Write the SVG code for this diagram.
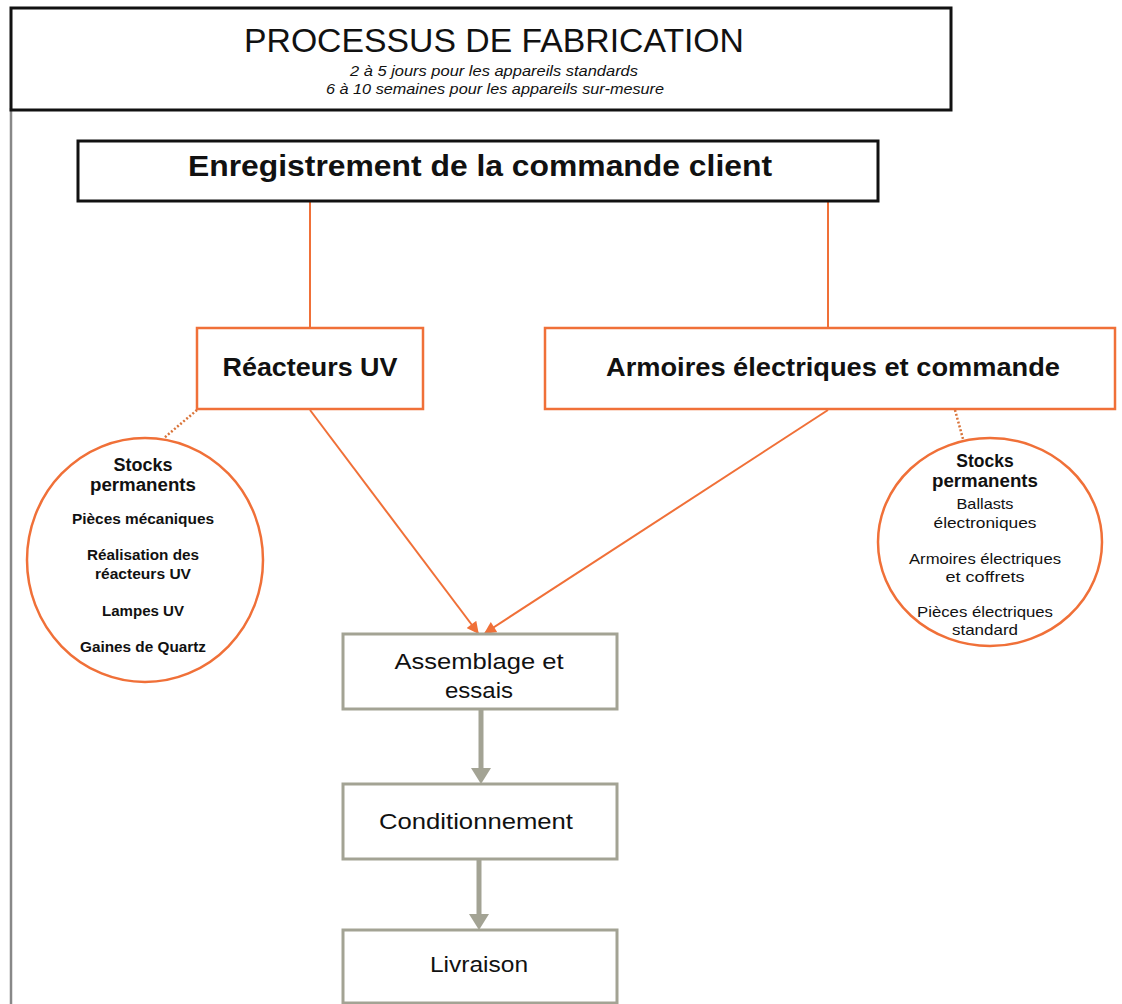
<svg xmlns="http://www.w3.org/2000/svg" width="1122" height="1004" viewBox="0 0 1122 1004">
<style>
.t{font-family:"Liberation Sans",Arial,sans-serif;fill:#111;text-anchor:middle}
.b{font-weight:bold}
.or{fill:#fff;stroke:#f07038;stroke-width:2.5}
.gr{fill:#fff;stroke:#a3a394;stroke-width:3}
.bk{fill:#fff;stroke:#111;stroke-width:3}
.ol{stroke:#f07038;stroke-width:2;fill:none}
.dot{stroke:#d9743a;stroke-width:2.5;stroke-dasharray:2 2;fill:none}
.ga{stroke:#a3a394;stroke-width:5;fill:none}
</style>
<defs>
<marker id="ao" viewBox="0 0 10 10" refX="9" refY="5" markerWidth="13" markerHeight="12" orient="auto" markerUnits="userSpaceOnUse">
<path d="M0,0 L10,5 L0,10 z" fill="#f07038"/>
</marker>
</defs>
<rect width="1122" height="1004" fill="#fff"/>
<line x1="11" y1="108" x2="11" y2="1004" stroke="#888" stroke-width="2.5"/>
<g id="title">
<rect x="11" y="8" width="940" height="102" class="bk"/>
<text class="t" x="494" y="52" font-size="33" textLength="500" lengthAdjust="spacingAndGlyphs">PROCESSUS DE FABRICATION</text>
<text class="t" x="494" y="76" font-size="14" font-style="italic" textLength="288" lengthAdjust="spacingAndGlyphs">2 à 5 jours pour les appareils standards</text>
<text class="t" x="495" y="94" font-size="14" font-style="italic" textLength="338" lengthAdjust="spacingAndGlyphs">6 à 10 semaines pour les appareils sur-mesure</text>
</g>
<g id="connectors">
<line class="ol" x1="310" y1="201" x2="310" y2="328"/>
<line class="ol" x1="828" y1="201" x2="828" y2="328"/>
<line class="ol" x1="310" y1="410" x2="478" y2="633" marker-end="url(#ao)" stroke-width="1.8"/>
<line class="ol" x1="828" y1="410" x2="485" y2="633" marker-end="url(#ao)" stroke-width="1.8"/>
<line class="dot" x1="197" y1="410" x2="164" y2="438"/>
<line class="dot" x1="955" y1="410" x2="963" y2="439"/>
<line class="ga" x1="481" y1="710" x2="481" y2="770"/>
<path d="M471,768 L491,768 L481,784 z" fill="#a3a394"/>
<line class="ga" x1="479" y1="860" x2="479" y2="916"/>
<path d="M469,914 L489,914 L479,930 z" fill="#a3a394"/>
</g>
<g id="enregistrement">
<rect x="78" y="141" width="800" height="60" class="bk"/>
<text class="t b" x="480" y="176" font-size="30" textLength="584" lengthAdjust="spacingAndGlyphs">Enregistrement de la commande client</text>
</g>
<g id="reacteurs">
<rect x="197" y="328" width="226" height="81" class="or"/>
<text class="t b" x="310" y="376" font-size="26" textLength="175" lengthAdjust="spacingAndGlyphs">Réacteurs UV</text>
</g>
<g id="armoires">
<rect x="545" y="328" width="570" height="81" class="or"/>
<text class="t b" x="833" y="376" font-size="26" textLength="454" lengthAdjust="spacingAndGlyphs">Armoires électriques et commande</text>
</g>
<g id="stocks-gauche">
<ellipse cx="145" cy="560" rx="118" ry="122" class="or"/>
<text class="t b" x="143" y="471" font-size="18">Stocks</text>
<text class="t b" x="143" y="491" font-size="18" textLength="106" lengthAdjust="spacingAndGlyphs">permanents</text>
<text class="t b" x="143" y="524" font-size="14" textLength="142" lengthAdjust="spacingAndGlyphs">Pièces mécaniques</text>
<text class="t b" x="143" y="560" font-size="14" textLength="112" lengthAdjust="spacingAndGlyphs">Réalisation des</text>
<text class="t b" x="143" y="579" font-size="14" textLength="96" lengthAdjust="spacingAndGlyphs">réacteurs UV</text>
<text class="t b" x="143" y="616" font-size="14" textLength="82" lengthAdjust="spacingAndGlyphs">Lampes UV</text>
<text class="t b" x="143" y="652" font-size="14" textLength="126" lengthAdjust="spacingAndGlyphs">Gaines de Quartz</text>
</g>
<g id="stocks-droite">
<ellipse cx="990" cy="542" rx="112" ry="104" class="or"/>
<text class="t b" x="985" y="467" font-size="17.5">Stocks</text>
<text class="t b" x="985" y="487" font-size="17.5" textLength="106" lengthAdjust="spacingAndGlyphs">permanents</text>
<text class="t" x="985" y="509" font-size="15" textLength="57" lengthAdjust="spacingAndGlyphs">Ballasts</text>
<text class="t" x="985" y="528" font-size="15" textLength="103" lengthAdjust="spacingAndGlyphs">électroniques</text>
<text class="t" x="985" y="564" font-size="15" textLength="152" lengthAdjust="spacingAndGlyphs">Armoires électriques</text>
<text class="t" x="985" y="582" font-size="15" textLength="79" lengthAdjust="spacingAndGlyphs">et coffrets</text>
<text class="t" x="985" y="617" font-size="15" textLength="136" lengthAdjust="spacingAndGlyphs">Pièces électriques</text>
<text class="t" x="985" y="635" font-size="15" textLength="66" lengthAdjust="spacingAndGlyphs">standard</text>
</g>
<g id="assemblage">
<rect x="343" y="634" width="274" height="75" class="gr"/>
<text class="t" x="479" y="669" font-size="22" textLength="169" lengthAdjust="spacingAndGlyphs">Assemblage et</text>
<text class="t" x="479" y="698" font-size="22" textLength="68" lengthAdjust="spacingAndGlyphs">essais</text>
</g>
<g id="conditionnement">
<rect x="343" y="784" width="274" height="75" class="gr"/>
<text class="t" x="476" y="829" font-size="22" textLength="194" lengthAdjust="spacingAndGlyphs">Conditionnement</text>
</g>
<g id="livraison">
<rect x="343" y="930" width="274" height="73" class="gr"/>
<text class="t" x="479" y="972" font-size="22" textLength="98" lengthAdjust="spacingAndGlyphs">Livraison</text>
</g>
</svg>
